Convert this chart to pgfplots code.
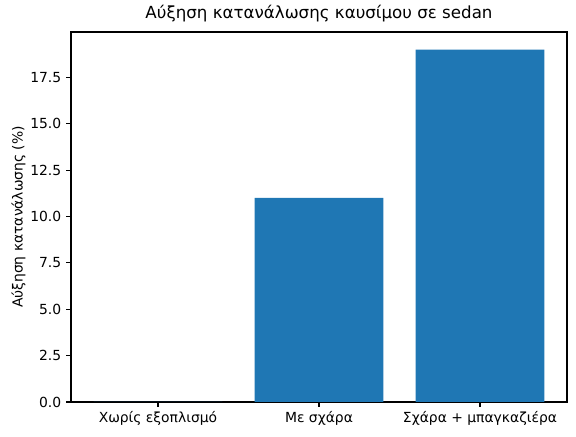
\documentclass[border=0pt]{standalone}
\usepackage{fontspec}
\setmainfont{DejaVu Sans}
\usepackage{pgfplots}
\pgfplotsset{compat=1.18}
\definecolor{mplblue}{HTML}{1F77B4}
\begin{document}
\begin{tikzpicture}
\path[use as bounding box] (0,0) rectangle (414.72pt,313.92pt);
\begin{axis}[
  at={(51.12pt,24.5pt)}, anchor=south west,
  scale only axis, width=357.1pt, height=266.4pt,
  xmin=-0.54, xmax=2.54, ymin=0, ymax=19.95,
  xtick={0,1,2},
  xticklabels={Χωρίς εξοπλισμό, Με σχάρα, Σχάρα + μπαγκαζιέρα},
  ytick={0,2.5,...,17.5},
  yticklabel style={/pgf/number format/.cd, fixed, fixed zerofill, precision=1},
  /pgf/number format/assume math mode=true,
  tick align=outside, tick pos=left,
  major tick length=3.5pt,
  every tick/.style={black, line width=0.8pt},
  axis line style={line width=0.8pt},
  tick label style={font=\fontsize{10}{12}\selectfont},
  ylabel={Αύξηση κατανάλωσης (\%)},
  ylabel style={font=\fontsize{10}{12}\selectfont, yshift=-3.5pt},
  title={Αύξηση κατανάλωσης καυσίμου σε sedan},
  title style={font=\fontsize{12}{14}\selectfont, yshift=-2pt},
]
\addplot[ybar, bar width=0.8, fill=mplblue, draw=none] coordinates {(0,0) (1,11) (2,19)};
\end{axis}
\end{tikzpicture}
\end{document}
